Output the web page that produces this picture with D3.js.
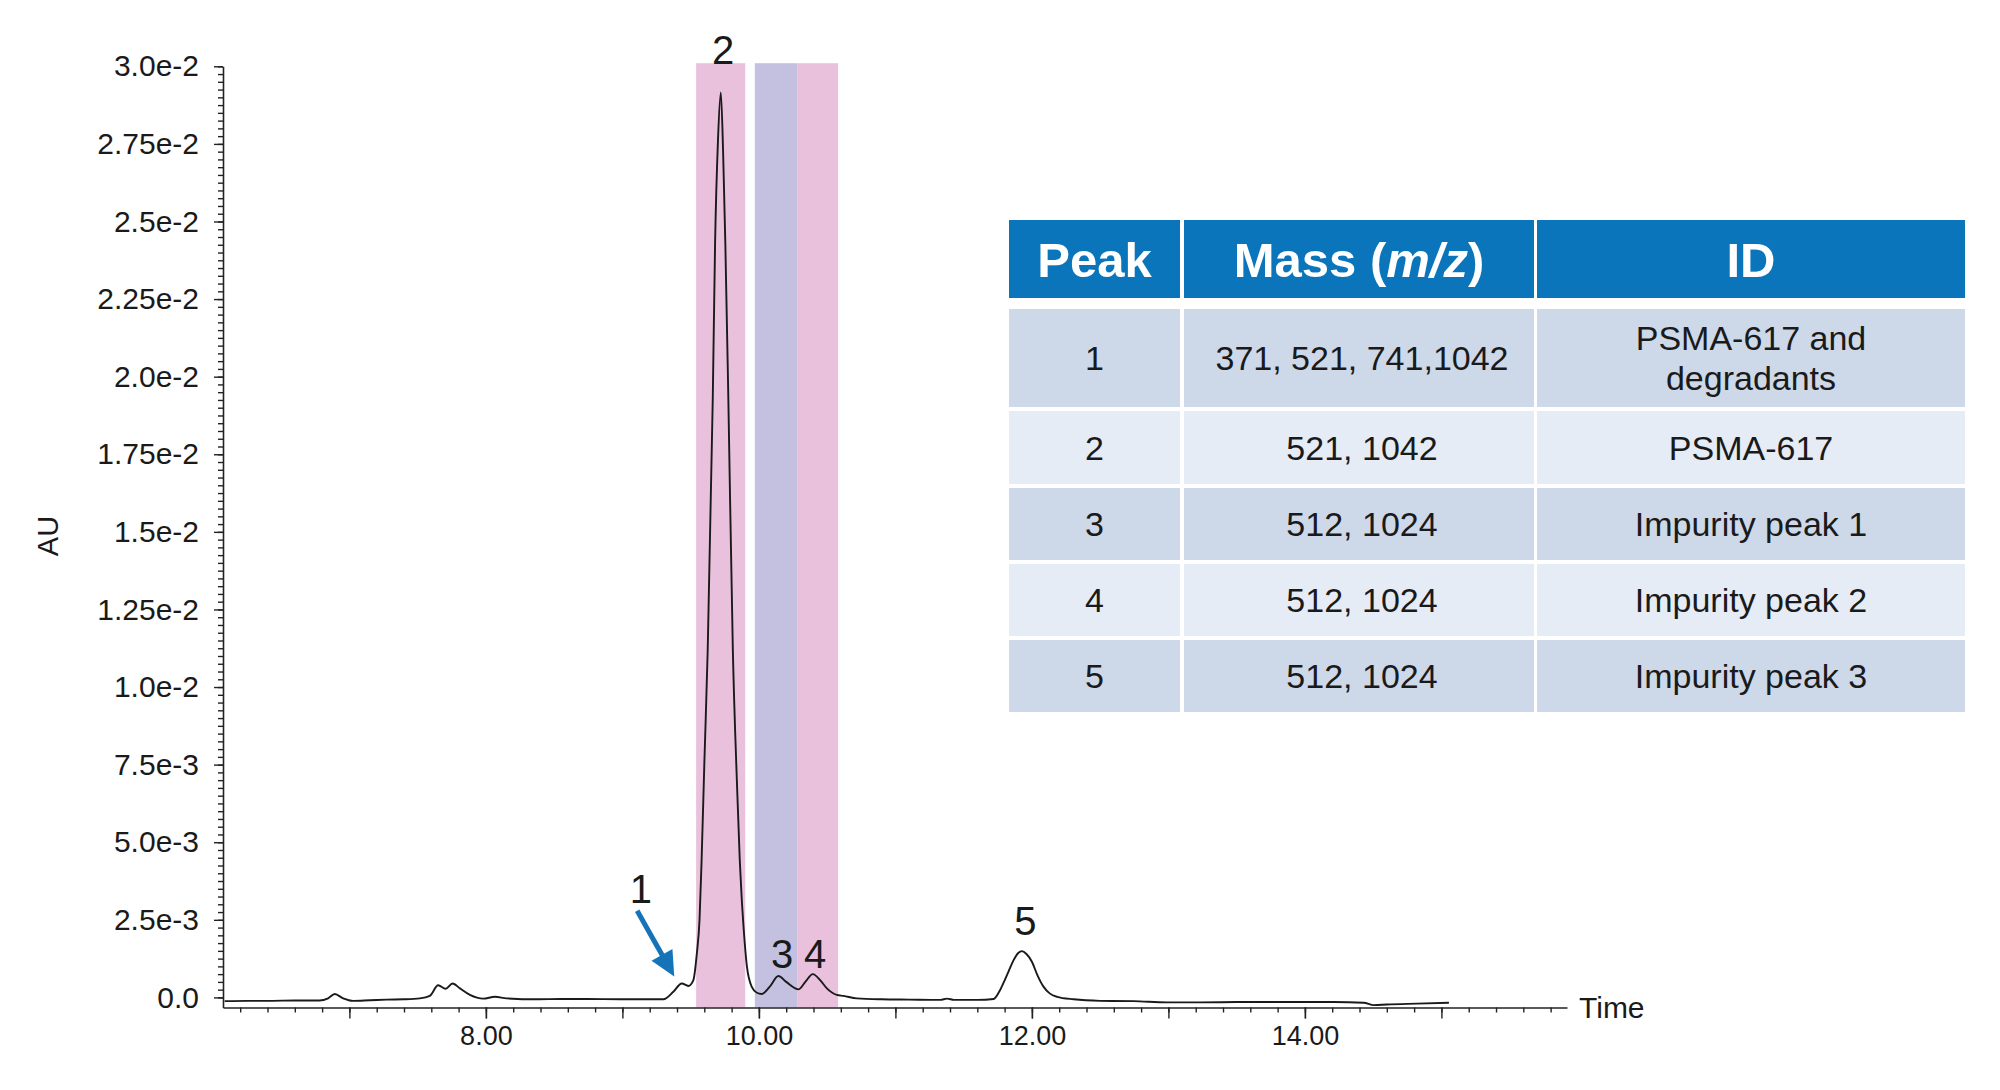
<!DOCTYPE html>
<html>
<head>
<meta charset="utf-8">
<script src="https://cdn.jsdelivr.net/npm/d3@7"></script>
<style>
  body { margin: 0; background: #fff; }
  svg { display: block; font-family: "Liberation Sans", Arial, sans-serif; }
</style>
</head>
<body>
<div id="chart"></div>
<script>
// retention time (min) of each trace point
const traceTime = [
  6.086, 6.25, 6.42, 6.60, 6.78, 6.844, 6.893, 6.954, 7.027, 7.15, 7.272, 7.40, 7.516, 7.589,
  7.65, 7.705, 7.756, 7.81, 7.883, 7.98, 8.066, 8.152, 8.372, 8.55, 8.738, 8.982, 9.15, 9.30,
  9.373, 9.435, 9.483, 9.52, 9.545, 9.565, 9.58, 9.60, 9.625, 9.662, 9.679, 9.70, 9.721,
  9.738, 9.754, 9.776, 9.809, 9.84, 9.86, 9.875, 9.887, 9.912, 9.948, 9.985, 10.02, 10.08,
  10.143, 10.20, 10.29, 10.34, 10.395, 10.45, 10.498, 10.571, 10.62, 10.718, 10.9, 11.1,
  11.33, 11.378, 11.43, 11.6, 11.72, 11.76, 11.79, 11.83, 11.866, 11.90, 11.927, 11.96,
  12.0, 12.04, 12.086, 12.13, 12.184, 12.306, 12.50, 12.745, 12.99, 13.235, 13.5, 13.72,
  14.0, 14.21, 14.43, 14.505, 14.60, 14.82, 15.055
];
// absorbance of each trace point, in 1e-3 AU
const traceMilliAU = [
  -0.12, -0.11, -0.11, -0.10, -0.10, -0.03, 0.11, -0.03, -0.11, -0.09, -0.07, -0.06, -0.03, 0.05,
  0.39, 0.28, 0.45, 0.29, 0.08, -0.04, 0.02, -0.03, -0.06, -0.05, -0.05, -0.06, -0.06, -0.06,
  0.18, 0.45, 0.37, 0.56, 1.4, 2.5, 4.4, 7.5, 11.2, 19.3, 24.3, 27.6, 29.16,
  27.2, 24.3, 19.3, 11.2, 6.8, 4.4, 3.1, 2.3, 1.0, 0.34, 0.15, 0.11, 0.35,
  0.69, 0.50, 0.26, 0.50, 0.75, 0.55, 0.29, 0.08, 0.05, -0.03, -0.06, -0.07,
  -0.08, -0.04, -0.08, -0.08, -0.05, 0.18, 0.45, 0.85, 1.2, 1.43, 1.49, 1.40,
  1.15, 0.72, 0.34, 0.13, 0.02, -0.06, -0.11, -0.12, -0.16, -0.16, -0.15, -0.15,
  -0.15, -0.15, -0.17, -0.25, -0.23, -0.20, -0.17
];

// axis ticks
const yTickValues = [0, 0.0025, 0.005, 0.0075, 0.01, 0.0125, 0.015, 0.0175, 0.02, 0.0225, 0.025, 0.0275, 0.03];
const yTickLabels = ["0.0", "2.5e-3", "5.0e-3", "7.5e-3", "1.0e-2", "1.25e-2", "1.5e-2", "1.75e-2", "2.0e-2", "2.25e-2", "2.5e-2", "2.75e-2", "3.0e-2"];
const xTickValues = [8, 10, 12, 14];
const xTickLabels = ["8.00", "10.00", "12.00", "14.00"];

// shaded fraction windows (min)
const bandStart = [9.54, 9.97, 10.28];
const bandEnd = [9.90, 10.28, 10.58];
const bandKind = ["pink", "purple", "pink"];

// peak numbers and where they sit (time, AU)
const peakNames = ["1", "2", "3", "4", "5"];
const peakLabelTime = [9.136, 9.737, 10.17, 10.412, 11.952];
const peakLabelAU = [0.00304, 0.03009, 0.00095, 0.00095, 0.00201];

// arrow pointing to peak 1 (time, AU)
const arrowFrom = [9.108, 0.00279];
const arrowTo = [9.38, 0.00067];

// table
const tableHeader = ["Peak", "Mass", "ID"];
const tablePeak = ["1", "2", "3", "4", "5"];
const tableMass = ["371, 521, 741,1042", "521, 1042", "512, 1024", "512, 1024", "512, 1024"];
const tableId = [["PSMA-617 and", "degradants"], ["PSMA-617"], ["Impurity peak 1"], ["Impurity peak 2"], ["Impurity peak 3"]];

class Chromatogram {
  constructor(_config) {
    this.config = {
      parentElement: _config.parentElement,
      containerWidth: _config.containerWidth || 2000,
      containerHeight: _config.containerHeight || 1090,
      margin: _config.margin || {left: 223, right: 433, top: 66.3, bottom: 82.5}
    };
    this.data = traceTime.map((t, i) => ({t: t, v: traceMilliAU[i] * 1e-3}));
    this.initVis();
  }

  initVis() {
    let vis = this;
    const m = vis.config.margin;

    vis.svg = d3.select(vis.config.parentElement).append("svg")
        .attr("width", vis.config.containerWidth)
        .attr("height", vis.config.containerHeight);

    vis.xScale = d3.scaleLinear()
        .domain([6.074, 15.92])
        .range([m.left, vis.config.containerWidth - m.right]);

    vis.yScale = d3.scaleLinear()
        .domain([-0.000325, 0.03])
        .range([vis.config.containerHeight - m.bottom, m.top]);

    vis.renderVis();
  }

  renderVis() {
    let vis = this;
    const x = vis.xScale, y = vis.yScale;
    const bottom = y.range()[0];

    // shaded windows
    const bandColor = {pink: "#e9c1dc", purple: "#c3c0e0"};
    vis.svg.selectAll(".band")
        .data(bandStart)
      .join("rect")
        .attr("class", "band")
        .attr("x", (d, i) => x(d))
        .attr("width", (d, i) => x(bandEnd[i]) - x(d))
        .attr("y", y(0.0301))
        .attr("height", bottom - y(0.0301))
        .attr("fill", (d, i) => bandColor[bandKind[i]]);

    // trace
    const line = d3.line()
        .x(d => x(d.t))
        .y(d => y(d.v))
        .curve(d3.curveMonotoneX);

    vis.svg.append("path")
        .datum(vis.data)
        .attr("fill", "none")
        .attr("stroke", "#1a1a1a")
        .attr("stroke-width", 1.9)
        .attr("d", line);

    // y axis
    const yMinor = vis.svg.append("g")
        .attr("transform", `translate(${x.range()[0]},0)`)
        .call(d3.axisLeft(y).tickValues(d3.range(0, 0.03001, 0.00025)).tickFormat("").tickSize(5).tickSizeOuter(0));
    yMinor.select(".domain").remove();

    const yAxisG = vis.svg.append("g")
        .attr("transform", `translate(${x.range()[0]},0)`)
        .call(d3.axisLeft(y)
          .tickValues(yTickValues)
          .tickFormat((d, i) => yTickLabels[i])
          .tickSize(9)
          .tickSizeOuter(0)
          .tickPadding(15));
    yAxisG.selectAll("text").attr("font-size", 30).attr("fill", "#1a1a1a").style("font-family", "Liberation Sans, Arial, sans-serif");

    // x axis
    const xMinor = vis.svg.append("g")
        .attr("transform", `translate(0,${bottom})`)
        .call(d3.axisBottom(x).tickValues(d3.range(6.2, 15.9, 0.2)).tickFormat("").tickSize(5).tickSizeOuter(0));
    xMinor.select(".domain").remove();

    const xMajor = vis.svg.append("g")
        .attr("transform", `translate(0,${bottom})`)
        .call(d3.axisBottom(x).tickValues(d3.range(7, 16, 1)).tickFormat("").tickSize(11).tickSizeOuter(0));
    xMajor.select(".domain").remove();

    const xAxisG = vis.svg.append("g")
        .attr("transform", `translate(0,${bottom})`)
        .call(d3.axisBottom(x)
          .tickValues(xTickValues)
          .tickFormat((d, i) => xTickLabels[i])
          .tickSize(11)
          .tickSizeOuter(0)
          .tickPadding(7));
    xAxisG.selectAll("text").attr("font-size", 27).attr("fill", "#1a1a1a").style("font-family", "Liberation Sans, Arial, sans-serif");

    vis.svg.selectAll(".domain").attr("stroke", "#222").attr("stroke-width", 1.6);
    vis.svg.selectAll(".tick line").attr("stroke", "#222").attr("stroke-width", 1.4);

    // axis titles
    vis.svg.append("text")
        .attr("transform", `translate(48,536) rotate(-90)`)
        .attr("text-anchor", "middle")
        .attr("dy", "0.35em")
        .attr("font-size", 29)
        .attr("fill", "#1a1a1a")
        .text("AU");

    vis.svg.append("text")
        .attr("x", x.range()[1] + 12)
        .attr("y", bottom)
        .attr("dy", "0.36em")
        .attr("font-size", 30)
        .attr("fill", "#1a1a1a")
        .text("Time");

    // peak numbers
    vis.svg.selectAll(".peak-label")
        .data(peakNames)
      .join("text")
        .attr("class", "peak-label")
        .attr("x", (d, i) => x(peakLabelTime[i]))
        .attr("y", (d, i) => y(peakLabelAU[i]))
        .attr("text-anchor", "middle")
        .attr("font-size", 40)
        .attr("fill", "#1a1a1a")
        .text(d => d);

    // arrow to peak 1
    const p0 = [x(arrowFrom[0]), y(arrowFrom[1])];
    const p1 = [x(arrowTo[0]), y(arrowTo[1])];
    const len = Math.hypot(p1[0] - p0[0], p1[1] - p0[1]);
    const ux = (p1[0] - p0[0]) / len, uy = (p1[1] - p0[1]) / len;
    const headLen = 25, headHalf = 12;
    const base = [p1[0] - ux * headLen, p1[1] - uy * headLen];
    vis.svg.append("line")
        .attr("x1", p0[0]).attr("y1", p0[1])
        .attr("x2", base[0] + ux * 2).attr("y2", base[1] + uy * 2)
        .attr("stroke", "#1574b8")
        .attr("stroke-width", 5);
    vis.svg.append("path")
        .attr("d", `M${p1[0]},${p1[1]}L${base[0] - uy * headHalf},${base[1] + ux * headHalf}L${base[0] + uy * headHalf},${base[1] - ux * headHalf}Z`)
        .attr("fill", "#1574b8");

    vis.renderTable();
  }

  renderTable() {
    let vis = this;
    const colX = [1009, 1184, 1537];
    const colW = [171, 350, 428];
    const headTop = 220, headH = 78;
    const rowTop = [309, 411, 488, 564, 640];
    const rowH = [98, 73, 72, 72, 72];
    const rowFill = ["#cdd8e9", "#e6ecf5"];

    const t = vis.svg.append("g").attr("class", "table");

    t.selectAll(".head-cell")
        .data(tableHeader)
      .join("rect")
        .attr("class", "head-cell")
        .attr("x", (d, i) => colX[i])
        .attr("y", headTop)
        .attr("width", (d, i) => colW[i])
        .attr("height", headH)
        .attr("fill", "#0b75bb");

    const headText = t.selectAll(".head-text")
        .data(tableHeader)
      .join("text")
        .attr("class", "head-text")
        .attr("x", (d, i) => colX[i] + colW[i] / 2)
        .attr("y", headTop + headH / 2)
        .attr("dy", "0.36em")
        .attr("text-anchor", "middle")
        .attr("font-size", 49)
        .attr("font-weight", "bold")
        .attr("fill", "#fff");
    headText.each(function(d) {
      const el = d3.select(this);
      if (d === "Mass") {
        el.append("tspan").text("Mass (");
        el.append("tspan").attr("font-style", "italic").text("m/z");
        el.append("tspan").text(")");
      } else {
        el.text(d);
      }
    });

    tablePeak.forEach((p, r) => {
      const cells = [[p], [tableMass[r]], tableId[r]];
      cells.forEach((lines, c) => {
        t.append("rect")
            .attr("x", colX[c])
            .attr("y", rowTop[r])
            .attr("width", colW[c])
            .attr("height", rowH[r])
            .attr("fill", rowFill[r % 2]);
        const cy = rowTop[r] + rowH[r] / 2;
        lines.forEach((s, k) => {
          t.append("text")
              .attr("x", colX[c] + colW[c] / 2 + (c === 1 ? 3 : 0))
              .attr("y", cy + (k - (lines.length - 1) / 2) * 40)
              .attr("dy", "0.36em")
              .attr("text-anchor", "middle")
              .attr("font-size", 34)
              .attr("fill", "#1a1a1a")
              .text(s);
        });
      });
    });
  }
}

new Chromatogram({parentElement: "#chart"});
</script>
</body>
</html>
